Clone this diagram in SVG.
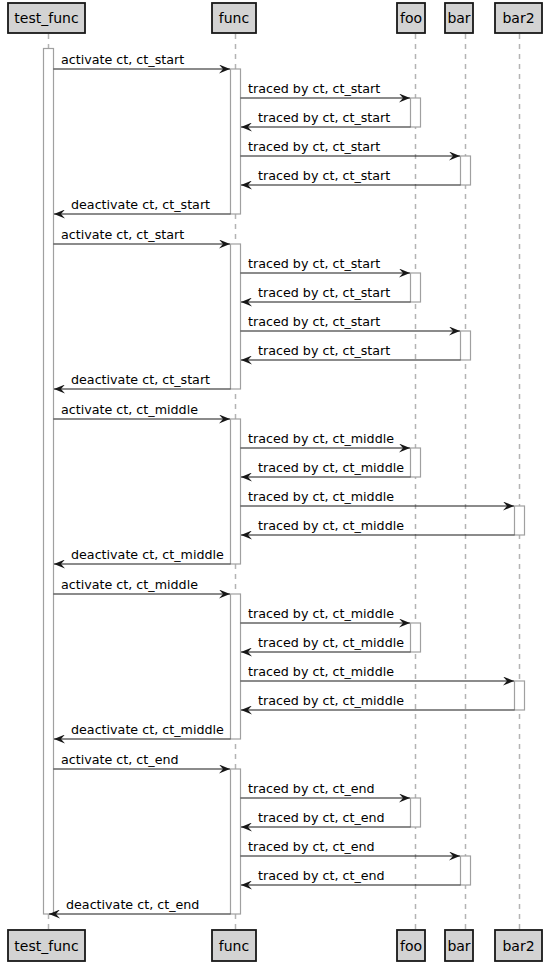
<svg xmlns="http://www.w3.org/2000/svg" width="550" height="970" viewBox="0 0 550 970">
<style>
.pbox{fill:#D3D3D3;stroke:#181818;stroke-width:1.8}
.pt{font-family:"DejaVu Sans",sans-serif;font-size:14px;fill:#000;text-anchor:middle}
.life{stroke:#B4B4B4;stroke-width:1.5;stroke-dasharray:5,5;fill:none}
.act{fill:#FFFFFF;stroke:#A0A0A0;stroke-width:1.2}
.msg{stroke:#181818;stroke-width:1.1;fill:none;marker-end:url(#ah)}
.ml{font-family:"DejaVu Sans",sans-serif;font-size:12.7px;fill:#000}
</style>
<defs>
<marker id="ah" viewBox="0 0 11 9" refX="11" refY="4.5" markerWidth="11" markerHeight="9" markerUnits="userSpaceOnUse" orient="auto">
<path d="M0,0 L11,4.5 L0,9 L4,4.5 Z" fill="#181818"/>
</marker>
</defs>
<rect width="550" height="970" fill="#FFFFFF"/>
<g id="lifelines">
<line class="life" x1="48.5" y1="34" x2="48.5" y2="930"/>
<line class="life" x1="235.5" y1="34" x2="235.5" y2="930"/>
<line class="life" x1="415.5" y1="34" x2="415.5" y2="930"/>
<line class="life" x1="465.5" y1="34" x2="465.5" y2="930"/>
<line class="life" x1="519.5" y1="34" x2="519.5" y2="930"/>
</g>
<g id="test_func">
<rect class="pbox" x="8" y="3" width="77" height="30"/>
<text class="pt" x="46.5" y="23">test_func</text>
<rect class="pbox" x="8" y="930" width="77" height="31"/>
<text class="pt" x="46.5" y="951">test_func</text>
<rect class="act" x="43.5" y="48.5" width="10" height="865.5"/>
</g>
<g id="func">
<rect class="pbox" x="212" y="3" width="44" height="30"/>
<text class="pt" x="234" y="23">func</text>
<rect class="pbox" x="212" y="930" width="44" height="31"/>
<text class="pt" x="234" y="951">func</text>
<rect class="act" x="230.5" y="69" width="10" height="145"/>
<rect class="act" x="230.5" y="244" width="10" height="145"/>
<rect class="act" x="230.5" y="419" width="10" height="145"/>
<rect class="act" x="230.5" y="594" width="10" height="145"/>
<rect class="act" x="230.5" y="769" width="10" height="145"/>
</g>
<g id="foo">
<rect class="pbox" x="397" y="3" width="28" height="30"/>
<text class="pt" x="411" y="23">foo</text>
<rect class="pbox" x="397" y="930" width="28" height="31"/>
<text class="pt" x="411" y="951">foo</text>
<rect class="act" x="410.5" y="98" width="10" height="29"/>
<rect class="act" x="410.5" y="273" width="10" height="29"/>
<rect class="act" x="410.5" y="448" width="10" height="29"/>
<rect class="act" x="410.5" y="623" width="10" height="29"/>
<rect class="act" x="410.5" y="798" width="10" height="29"/>
</g>
<g id="bar">
<rect class="pbox" x="445" y="3" width="28" height="30"/>
<text class="pt" x="459" y="23">bar</text>
<rect class="pbox" x="445" y="930" width="28" height="31"/>
<text class="pt" x="459" y="951">bar</text>
<rect class="act" x="460.5" y="156" width="10" height="29"/>
<rect class="act" x="460.5" y="331" width="10" height="29"/>
<rect class="act" x="460.5" y="856" width="10" height="29"/>
</g>
<g id="bar2">
<rect class="pbox" x="495" y="3" width="47" height="30"/>
<text class="pt" x="518.5" y="23">bar2</text>
<rect class="pbox" x="495" y="930" width="47" height="31"/>
<text class="pt" x="518.5" y="951">bar2</text>
<rect class="act" x="514.5" y="506" width="10" height="29"/>
<rect class="act" x="514.5" y="681" width="10" height="29"/>
</g>
<g id="connectors">
<line class="msg" x1="53.5" y1="69" x2="230" y2="69"/><text class="ml" x="61" y="64">activate ct, ct_start</text>
<line class="msg" x1="240.5" y1="98" x2="410" y2="98"/><text class="ml" x="248" y="93">traced by ct, ct_start</text>
<line class="msg" x1="410.5" y1="127" x2="241" y2="127"/><text class="ml" x="258" y="122">traced by ct, ct_start</text>
<line class="msg" x1="240.5" y1="156" x2="460" y2="156"/><text class="ml" x="248" y="151">traced by ct, ct_start</text>
<line class="msg" x1="460.5" y1="185" x2="241" y2="185"/><text class="ml" x="258" y="180">traced by ct, ct_start</text>
<line class="msg" x1="230.5" y1="214" x2="54" y2="214"/><text class="ml" x="71" y="209">deactivate ct, ct_start</text>
<line class="msg" x1="53.5" y1="244" x2="230" y2="244"/><text class="ml" x="61" y="239">activate ct, ct_start</text>
<line class="msg" x1="240.5" y1="273" x2="410" y2="273"/><text class="ml" x="248" y="268">traced by ct, ct_start</text>
<line class="msg" x1="410.5" y1="302" x2="241" y2="302"/><text class="ml" x="258" y="297">traced by ct, ct_start</text>
<line class="msg" x1="240.5" y1="331" x2="460" y2="331"/><text class="ml" x="248" y="326">traced by ct, ct_start</text>
<line class="msg" x1="460.5" y1="360" x2="241" y2="360"/><text class="ml" x="258" y="355">traced by ct, ct_start</text>
<line class="msg" x1="230.5" y1="389" x2="54" y2="389"/><text class="ml" x="71" y="384">deactivate ct, ct_start</text>
<line class="msg" x1="53.5" y1="419" x2="230" y2="419"/><text class="ml" x="61" y="414">activate ct, ct_middle</text>
<line class="msg" x1="240.5" y1="448" x2="410" y2="448"/><text class="ml" x="248" y="443">traced by ct, ct_middle</text>
<line class="msg" x1="410.5" y1="477" x2="241" y2="477"/><text class="ml" x="258" y="472">traced by ct, ct_middle</text>
<line class="msg" x1="240.5" y1="506" x2="514" y2="506"/><text class="ml" x="248" y="501">traced by ct, ct_middle</text>
<line class="msg" x1="514.5" y1="535" x2="241" y2="535"/><text class="ml" x="258" y="530">traced by ct, ct_middle</text>
<line class="msg" x1="230.5" y1="564" x2="54" y2="564"/><text class="ml" x="71" y="559">deactivate ct, ct_middle</text>
<line class="msg" x1="53.5" y1="594" x2="230" y2="594"/><text class="ml" x="61" y="589">activate ct, ct_middle</text>
<line class="msg" x1="240.5" y1="623" x2="410" y2="623"/><text class="ml" x="248" y="618">traced by ct, ct_middle</text>
<line class="msg" x1="410.5" y1="652" x2="241" y2="652"/><text class="ml" x="258" y="647">traced by ct, ct_middle</text>
<line class="msg" x1="240.5" y1="681" x2="514" y2="681"/><text class="ml" x="248" y="676">traced by ct, ct_middle</text>
<line class="msg" x1="514.5" y1="710" x2="241" y2="710"/><text class="ml" x="258" y="705">traced by ct, ct_middle</text>
<line class="msg" x1="230.5" y1="739" x2="54" y2="739"/><text class="ml" x="71" y="734">deactivate ct, ct_middle</text>
<line class="msg" x1="53.5" y1="769" x2="230" y2="769"/><text class="ml" x="61" y="764">activate ct, ct_end</text>
<line class="msg" x1="240.5" y1="798" x2="410" y2="798"/><text class="ml" x="248" y="793">traced by ct, ct_end</text>
<line class="msg" x1="410.5" y1="827" x2="241" y2="827"/><text class="ml" x="258" y="822">traced by ct, ct_end</text>
<line class="msg" x1="240.5" y1="856" x2="460" y2="856"/><text class="ml" x="248" y="851">traced by ct, ct_end</text>
<line class="msg" x1="460.5" y1="885" x2="241" y2="885"/><text class="ml" x="258" y="880">traced by ct, ct_end</text>
<line class="msg" x1="230.5" y1="914" x2="49" y2="914"/><text class="ml" x="66" y="909">deactivate ct, ct_end</text>
</g>
</svg>
